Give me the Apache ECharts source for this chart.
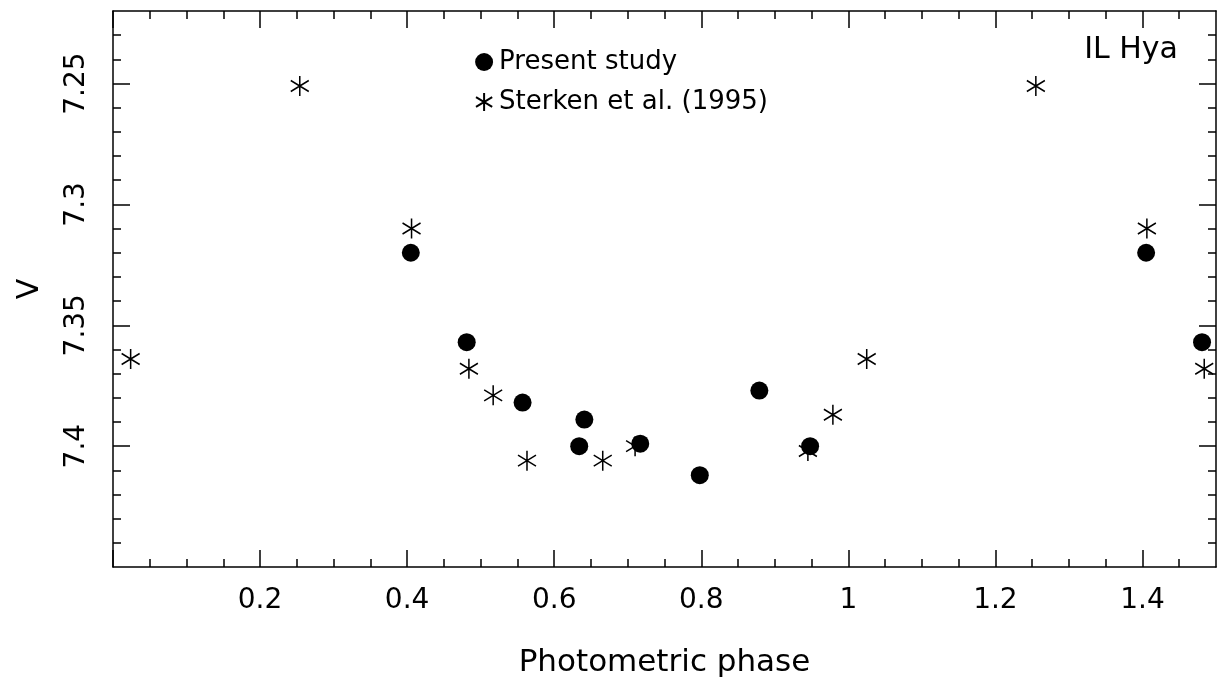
<!DOCTYPE html>
<html>
<head>
<meta charset="utf-8">
<script src="https://cdn.jsdelivr.net/npm/echarts@6/dist/echarts.min.js"></script>
<style>
  html, body { margin: 0; padding: 0; background: #fff; }
  #chart { width: 1218px; height: 687px; }
</style>
</head>
<body>
<div id="chart"></div>
<script>
// phase, V magnitude
const presentStudy = [
  [0.405, 7.320], [0.481, 7.357], [0.557, 7.382], [0.641, 7.389],
  [0.634, 7.400], [0.717, 7.399], [0.798, 7.412], [0.879, 7.377],
  [0.948, 7.400], [1.405, 7.320], [1.481, 7.357]
];
const sterken1995 = [
  [0.024, 7.364], [0.254, 7.251], [0.406, 7.310], [0.484, 7.368],
  [0.517, 7.379], [0.563, 7.406], [0.666, 7.406], [0.710, 7.400],
  [0.945, 7.402], [0.979, 7.387], [1.025, 7.364], [1.255, 7.251],
  [1.406, 7.310], [1.484, 7.368]
];
const xLabels = [0.2, 0.4, 0.6, 0.8, 1, 1.2, 1.4];
const xMajor = [0, 0.2, 0.4, 0.6, 0.8, 1, 1.2, 1.4];
const xMinor = [0.05, 0.1, 0.15, 0.25, 0.3, 0.35, 0.45, 0.5, 0.55, 0.65, 0.7, 0.75,
  0.85, 0.9, 0.95, 1.05, 1.1, 1.15, 1.25, 1.3, 1.35, 1.45];
const yLabels = [7.25, 7.3, 7.35, 7.4];
const yMinor = [7.23, 7.24, 7.26, 7.27, 7.28, 7.29, 7.31, 7.32, 7.33, 7.34,
  7.36, 7.37, 7.38, 7.39, 7.41, 7.42, 7.43, 7.44];

const font = 'DejaVu Sans';
const asterisk = 'path://M0,-10L0,10M-9,-5.5L9,5.5M-9,5.5L9,-5.5';

// builds one axis that only draws ticks (and optionally labels / line)
function xAx(pos, ticks, len, withLabels) {
  return {
    type: 'value', position: pos, min: 0, max: 1.5,
    splitLine: { show: false },
    axisLine: { show: withLabels !== undefined, onZero: false, lineStyle: { color: '#000', width: 1.5 } },
    axisTick: { show: true, inside: true, length: len, customValues: ticks,
      lineStyle: { color: '#000', width: 1.5 } },
    axisLabel: withLabels ? {
      show: true, customValues: xLabels, margin: 20,
      color: '#000', fontFamily: font, fontSize: 28,
      formatter: v => String(v)
    } : { show: false }
  };
}
function yAx(pos, ticks, len, withLabels) {
  return {
    type: 'value', position: pos, min: 7.22, max: 7.45, inverse: true,
    splitLine: { show: false },
    axisLine: { show: withLabels !== undefined, onZero: false, lineStyle: { color: '#000', width: 1.5 } },
    axisTick: { show: true, inside: true, length: len, customValues: ticks,
      lineStyle: { color: '#000', width: 1.5 } },
    axisLabel: withLabels ? {
      show: true, customValues: yLabels, margin: 22, rotate: 90,
      color: '#000', fontFamily: font, fontSize: 28,
      formatter: v => String(v)
    } : { show: false }
  };
}

const xAxes = [
  xAx('bottom', xMajor, 17, true),
  xAx('bottom', xMinor, 8),
  xAx('top', xMajor, 17, false),
  xAx('top', xMinor, 8)
];
xAxes[0].name = 'Photometric phase';
xAxes[0].nameLocation = 'middle';
xAxes[0].nameGap = 80;
xAxes[0].nameTextStyle = { color: '#000', fontFamily: font, fontSize: 31 };

const yAxes = [
  yAx('left', yLabels, 17, true),
  yAx('left', yMinor, 8),
  yAx('right', yLabels, 17, false),
  yAx('right', yMinor, 8)
];
yAxes[0].name = 'V';
yAxes[0].nameLocation = 'middle';
yAxes[0].nameGap = 68;
yAxes[0].nameTextStyle = { color: '#000', fontFamily: font, fontSize: 30 };

const chart = echarts.init(document.getElementById('chart'));
chart.setOption({
  animation: false,
  backgroundColor: '#fff',
  grid: { left: 113, right: 2, top: 11, bottom: 120, containLabel: false },
  legend: {
    data: ['Present study', 'Sterken et al. (1995)'],
    orient: 'vertical', left: 470, top: 44,
    itemWidth: 20, itemHeight: 18, itemGap: 14,
    textStyle: { color: '#000', fontFamily: font, fontSize: 26, lineHeight: 26 }
  },
  graphic: [{
    type: 'text', right: 40, top: 35,
    style: { text: 'IL Hya', fill: '#000', font: '30px "DejaVu Sans"' }
  }],
  xAxis: xAxes,
  yAxis: yAxes,
  series: [
    {
      name: 'Sterken et al. (1995)', type: 'scatter', data: sterken1995,
      symbol: asterisk, symbolSize: [18, 20],
      itemStyle: { color: '#000', borderColor: '#000', borderWidth: 1.6, opacity: 1 }
    },
    {
      name: 'Present study', type: 'scatter', data: presentStudy,
      symbol: 'circle', symbolSize: 18,
      itemStyle: { color: '#000', opacity: 1 }
    }
  ]
});
</script>
</body>
</html>
